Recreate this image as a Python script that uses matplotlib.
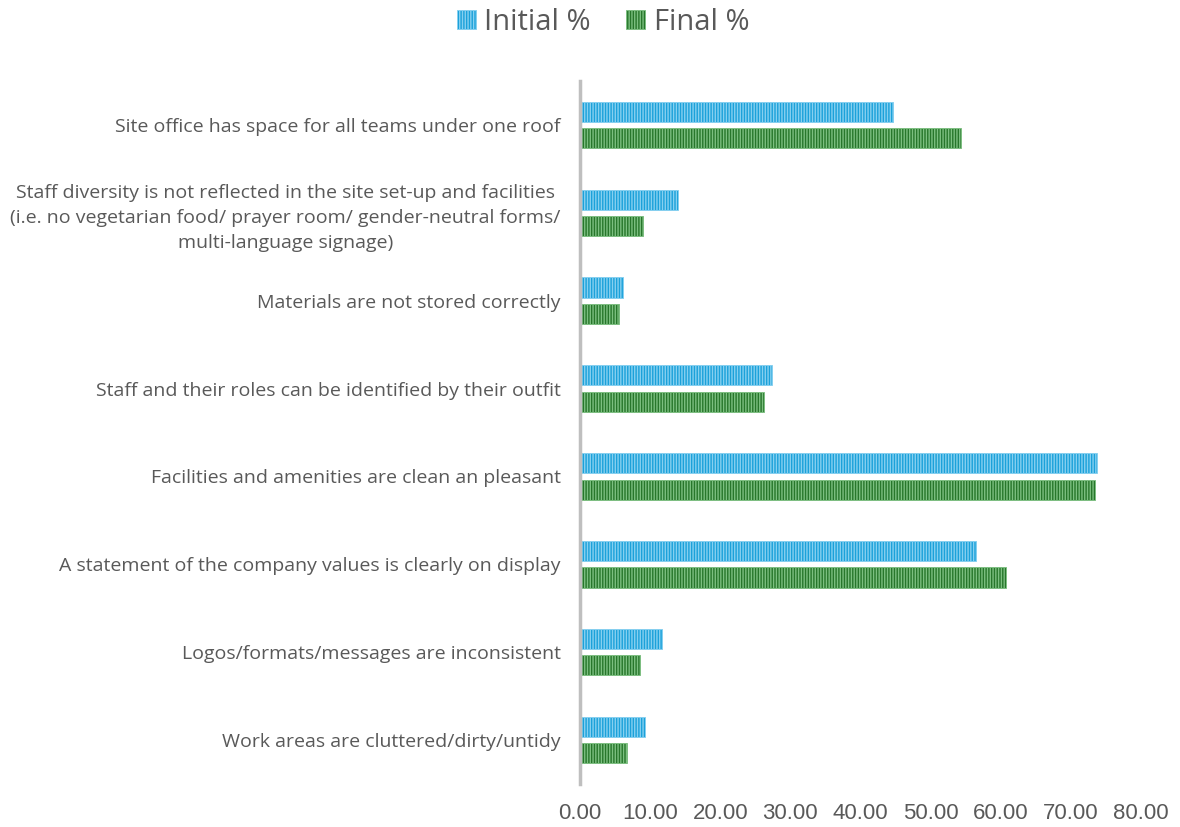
import matplotlib
matplotlib.use("Agg")
import matplotlib.pyplot as plt
import numpy as np

plt.rcParams['hatch.linewidth'] = 1.0

categories = [
    "Site office has space for all teams under one roof",
    "Staff diversity is not reflected in the site set-up and facilities\n(i.e. no vegetarian food/ prayer room/ gender-neutral forms/\nmulti-language signage)",
    "Materials are not stored correctly",
    "Staff and their roles can be identified by their outfit",
    "Facilities and amenities are clean an pleasant",
    "A statement of the company values is clearly on display",
    "Logos/formats/messages are inconsistent",
    "Work areas are cluttered/dirty/untidy",
]
initial_pct = [44.6, 14.0, 6.2, 27.4, 73.7, 56.4, 11.7, 9.3]
final_pct = [54.4, 9.0, 5.5, 26.2, 73.4, 60.8, 8.5, 6.7]
series_names = ["Initial %", "Final %"]
xticks = [0, 10, 20, 30, 40, 50, 60, 70, 80]

fig = plt.figure(figsize=(11.8, 8.27), dpi=100)
ax = fig.add_axes([580/1180, 1-784/827, (1141-580)/1180, (784-81)/827])

y = np.arange(len(categories))
h = 0.23
off = 0.15
b1 = ax.barh(y - off, initial_pct, height=h, color='#1BA1DA', edgecolor='#86D0F0',
             hatch='||||||', linewidth=0.6, label=series_names[0])
b2 = ax.barh(y + off, final_pct, height=h, color='#27762B', edgecolor='#7CBF80',
             hatch='||||||', linewidth=0.6, label=series_names[1])

ax.set_ylim(len(categories) - 0.5, -0.5)
ax.set_xlim(0, 80)
ax.set_xticks(xticks)
ax.set_xticklabels([f"{v:.2f}" for v in xticks], fontsize=16, color='#595959',
                   family='Liberation Sans')
ax.tick_params(axis='x', length=0, pad=14)
ax.tick_params(axis='y', length=0, pad=14)
ax.set_yticks(y)
ax.set_yticklabels(categories, fontsize=14, color='#595959', family='Open Sans',
                   multialignment='center', linespacing=1.5)

for s in ['top', 'right', 'bottom']:
    ax.spines[s].set_visible(False)
ax.spines['left'].set_color('#BFBFBF')
ax.spines['left'].set_linewidth(2.5)

leg = fig.legend(handles=[b1, b2], loc='center', bbox_to_anchor=(603/1180, 1-22/827),
                 ncol=2, frameon=False, prop={'family': 'Open Sans', 'size': 21},
                 handlelength=0.65, handleheight=0.65, handletextpad=0.3, columnspacing=1.2,
                 labelcolor='#595959')

fig.savefig("out.png", dpi=100)
